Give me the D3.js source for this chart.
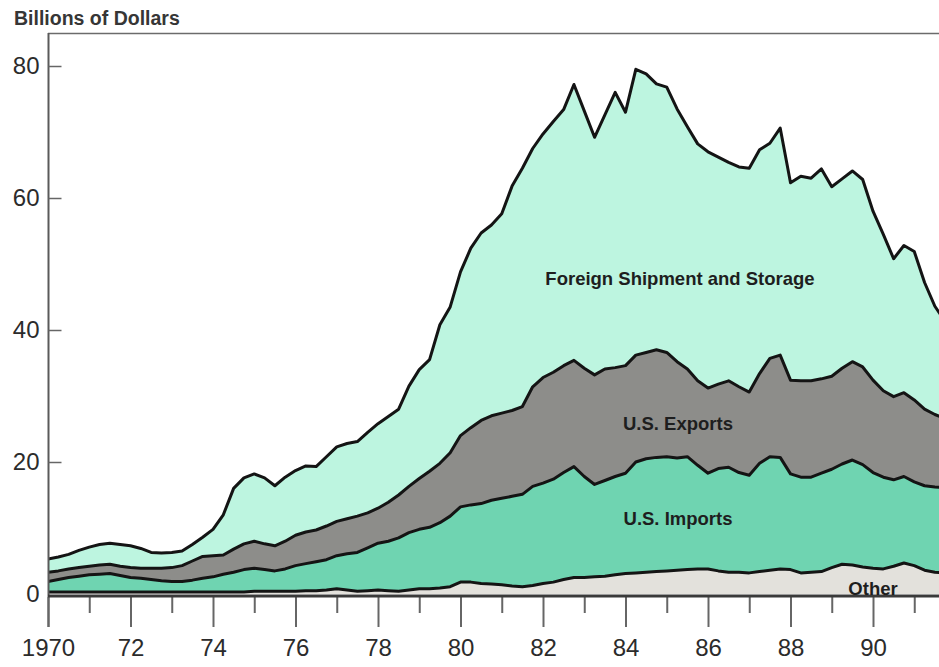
<!DOCTYPE html>
<html>
<head>
<meta charset="utf-8">
<script src="https://cdn.jsdelivr.net/npm/d3@7"></script>
<style>
  body { margin: 0; background: #fff; }
  svg { display: block; }
  text { font-family: "Liberation Sans", Arial, Helvetica, sans-serif; }
</style>
</head>
<body>
<svg id="chart" width="939" height="667"></svg>
<script>
'use strict';

/* global d3 */

// quarterly values, billions of dollars, one row per year starting 1970
var startYear = 1970;

var other = [
  0.3, 0.3, 0.3, 0.3,   0.3, 0.3, 0.3, 0.3,   0.3, 0.3, 0.3, 0.3,   0.3, 0.3, 0.3, 0.3,
  0.3, 0.3, 0.3, 0.3,   0.4, 0.4, 0.4, 0.4,   0.4, 0.5, 0.5, 0.6,   0.8, 0.6, 0.4, 0.5,
  0.6, 0.5, 0.4, 0.6,   0.8, 0.8, 0.9, 1.1,   1.8, 1.8, 1.6, 1.5,   1.4, 1.2, 1.1, 1.3,
  1.6, 1.8, 2.2, 2.5,   2.5, 2.6, 2.7, 2.9,   3.1, 3.2, 3.3, 3.4,   3.5, 3.6, 3.7, 3.8,
  3.8, 3.5, 3.3, 3.3,   3.2, 3.4, 3.6, 3.8,   3.7, 3.2, 3.3, 3.4,   4.0, 4.5, 4.4, 4.1,
  3.9, 3.8, 4.2, 4.7,   4.3, 3.6, 3.3, 3.2
];

var usImports = [
  1.6, 1.9, 2.2, 2.4,   2.6, 2.7, 2.8, 2.5,   2.2, 2.1, 1.9, 1.7,   1.6, 1.6, 1.8, 2.1,
  2.3, 2.7, 3.0, 3.4,   3.5, 3.3, 3.1, 3.4,   3.9, 4.1, 4.4, 4.6,   5.0, 5.5, 5.9, 6.5,
  7.1, 7.5, 8.1, 8.7,   9.0, 9.3, 9.9, 10.7,  11.4, 11.7, 12.1, 12.7, 13.1, 13.6, 14.0, 15.0,
  15.2, 15.6, 16.2, 16.8, 15.3, 14.0, 14.5, 14.9, 15.2, 16.8, 17.2, 17.3, 17.3, 17.0, 17.1, 15.7,
  14.5, 15.5, 15.9, 15.1, 14.8, 16.4, 17.2, 16.9, 14.5, 14.5, 14.4, 14.9, 14.9, 15.2, 15.9, 15.5,
  14.5, 13.9, 13.1, 13.1, 12.7, 12.8, 12.9, 12.9
];

var usExports = [
  1.4, 1.3, 1.3, 1.3,   1.3, 1.4, 1.4, 1.4,   1.5, 1.5, 1.7, 1.9,   2.1, 2.4, 2.9, 3.3,
  3.2, 2.9, 3.5, 3.9,   4.1, 3.9, 3.8, 4.2,   4.6, 4.8, 4.8, 5.1,   5.2, 5.3, 5.5, 5.3,
  5.3, 5.9, 6.5, 7.0,   7.7, 8.5, 9.0, 9.6,   10.8, 11.7, 12.6, 12.8, 12.9, 13.0, 13.3, 15.1,
  16.0, 16.2, 16.2, 16.1, 16.4, 16.6, 16.9, 16.5, 16.3, 16.2, 16.1, 16.3, 15.8, 14.6, 13.3, 12.8,
  12.9, 12.8, 13.1, 13.0, 12.6, 13.6, 14.9, 15.5, 14.2, 14.6, 14.6, 14.3, 14.1, 14.5, 14.9, 14.8,
  14.0, 13.1, 12.6, 12.7, 12.4, 11.6, 11.0, 10.5
];

var foreignStorage = [
  2.0, 2.1, 2.2, 2.6,   2.9, 3.1, 3.2, 3.3,   3.3, 3.0, 2.4, 2.3,   2.3, 2.2, 2.5, 2.9,
  4.0, 6.1, 9.2, 10.0,  10.2, 10.0, 9.1, 9.7,  9.8, 10.0, 9.6, 10.5,  11.3, 11.4, 11.3, 12.2,
  12.8, 13.0, 13.0, 15.2, 16.5, 16.9, 21.0, 22.1, 24.8, 27.2, 28.4, 28.9, 30.2, 34.0, 36.1, 36.1,
  36.9, 38.0, 38.8, 41.8, 39.0, 36.0, 38.5, 41.7, 38.4, 43.3, 42.2, 40.3, 40.2, 38.3, 36.7, 35.9,
  35.8, 34.4, 33.1, 33.3, 33.9, 33.9, 32.6, 34.4, 29.9, 31.0, 30.7, 31.8, 28.7, 28.7, 28.9, 28.4,
  25.6, 23.7, 20.9, 22.3, 22.5, 19.2, 16.4, 14.7
];

var seriesKeys = ['other', 'usImports', 'usExports', 'foreignStorage'];
var seriesLabels = ['Other', 'U.S. Imports', 'U.S. Exports', 'Foreign Shipment and Storage'];
var seriesColors = ['#e3e1dc', '#6fd4b1', '#8d8d8a', '#bdf5e0'];

var yTickValues = [0, 20, 40, 60, 80];
var majorTickYears = [1970, 1972, 1974, 1976, 1978, 1980, 1982, 1984, 1986, 1988, 1990];
var majorTickLabels = ['1970', '72', '74', '76', '78', '80', '82', '84', '86', '88', '90'];
var minorTickYears = [1971, 1973, 1975, 1977, 1979, 1981, 1983, 1985, 1987, 1989, 1991];

var svg = d3.select('#chart');
var width = 939;

var x = d3.scaleLinear().domain([1970, 1991.6]).range([48, 939]);
var y = d3.scaleLinear().domain([0, 85]).range([594, 33]);

var rows = other.map(function(v, i) {
  return {
    t: startYear + i * 0.25,
    other: v,
    usImports: usImports[i],
    usExports: usExports[i],
    foreignStorage: foreignStorage[i]
  };
});

var stacked = d3.stack().keys(seriesKeys)(rows);

svg.append('clipPath').attr('id', 'plot-clip')
  .append('rect').attr('x', 48).attr('y', 0).attr('width', width - 48).attr('height', 600);

var plot = svg.append('g').attr('clip-path', 'url(#plot-clip)');

var area = d3.area()
  .x(function(d) { return x(d.data.t); })
  .y0(function(d) { return y(d[0]); })
  .y1(function(d) { return y(d[1]); });

var topLine = d3.line()
  .x(function(d) { return x(d.data.t); })
  .y(function(d) { return y(d[1]); });

plot.selectAll('path.layer')
  .data(stacked)
  .enter().append('path')
  .attr('class', 'layer')
  .attr('d', area)
  .attr('fill', function(d, i) { return seriesColors[i]; });

plot.selectAll('path.edge')
  .data(stacked)
  .enter().append('path')
  .attr('class', 'edge')
  .attr('d', topLine)
  .attr('fill', 'none')
  .attr('stroke', '#141414')
  .attr('stroke-width', 3)
  .attr('stroke-linejoin', 'round');

// frame: top rule and left axis
svg.append('line')
  .attr('x1', 48).attr('x2', width).attr('y1', 33.5).attr('y2', 33.5)
  .attr('stroke', '#6b6b6b').attr('stroke-width', 1.5);

svg.append('line')
  .attr('x1', 48.5).attr('x2', 48.5).attr('y1', 33).attr('y2', 627)
  .attr('stroke', '#5a5a5a').attr('stroke-width', 2);

// y axis: short ticks inside, labels outside
var yAxis = svg.append('g')
  .attr('transform', 'translate(48.5,0)')
  .call(d3.axisLeft(y).tickValues(yTickValues).tickSize(-13).tickPadding(9).tickFormat(d3.format('d')));
yAxis.select('.domain').remove();
yAxis.selectAll('line').attr('stroke', '#666').attr('stroke-width', 1.5);
yAxis.selectAll('text').attr('font-size', 24).attr('fill', '#2b2b2b');
yAxis.selectAll('.tick').filter(function(d) { return d === 0; }).select('line').remove();

// x axis: baseline, long ticks on even years, short ones on odd years
var minorAxis = svg.append('g')
  .attr('transform', 'translate(0,597)')
  .call(d3.axisBottom(x).tickValues(minorTickYears).tickSize(16).tickFormat(''));
minorAxis.select('.domain').remove();
minorAxis.selectAll('line').attr('stroke', '#666').attr('stroke-width', 2);

var majorAxis = svg.append('g')
  .attr('transform', 'translate(0,597)')
  .call(d3.axisBottom(x).tickValues(majorTickYears).tickSize(30).tickPadding(12)
    .tickFormat(function(d, i) { return majorTickLabels[i]; }));
majorAxis.select('.domain').remove();
majorAxis.selectAll('line').attr('stroke', '#666').attr('stroke-width', 2);
majorAxis.selectAll('text').attr('font-size', 24).attr('fill', '#2b2b2b');

svg.append('line')
  .attr('x1', 48).attr('x2', width).attr('y1', 596).attr('y2', 596)
  .attr('stroke', '#3a3a3a').attr('stroke-width', 3);

svg.append('text')
  .attr('x', 14).attr('y', 25)
  .attr('font-size', 19.5).attr('font-weight', 'bold').attr('fill', '#363636')
  .text('Billions of Dollars');

// in-chart series labels
var labelSpots = [
  {i: 3, x: 680, y: 285},
  {i: 2, x: 678, y: 430},
  {i: 1, x: 678, y: 525},
  {i: 0, x: 873, y: 595}
];
svg.selectAll('text.series-label')
  .data(labelSpots)
  .enter().append('text')
  .attr('class', 'series-label')
  .attr('x', function(d) { return d.x; })
  .attr('y', function(d) { return d.y; })
  .attr('text-anchor', 'middle')
  .attr('font-size', 18.5)
  .attr('font-weight', 'bold')
  .attr('fill', '#1e1e1e')
  .text(function(d) { return seriesLabels[d.i]; });
</script>
</body>
</html>
